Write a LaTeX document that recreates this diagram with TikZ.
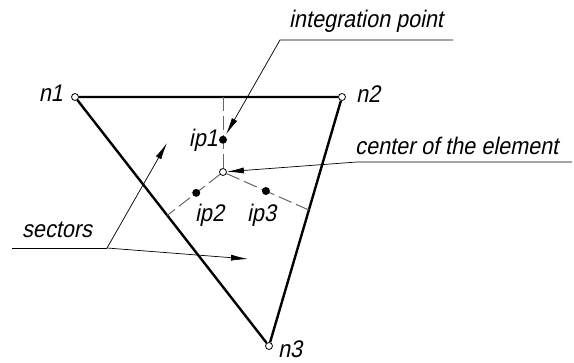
\documentclass[tikz,border=0pt]{standalone}
\usepackage{fontspec}
\setmainfont{Liberation Sans}[FakeSlant=0.2,FakeStretch=0.9]
\usepackage{tikz}
\usetikzlibrary{calc,arrows.meta}
\tikzset{
vertex/.style={
circle,
draw,
fill=white,
inner sep=0pt,
minimum size=7pt,
line width=0.8pt
},
ipoint/.style={
circle,
fill=black,
inner sep=0pt,
minimum size=8pt
},
side/.style={
line width=2.4pt
},
sector/.style={
draw=black!60,
line width=1pt,
dash pattern=on 14pt off 5pt
},
leader/.style={
line width=0.7pt
},
arrow/.style={
leader,
-{Latex[length=17pt,width=6pt]}
},
txt/.style={
font=\fontsize{24}{28}\selectfont,
inner sep=0pt
}
}

\begin{document}
\begin{tikzpicture}[x=1pt,y=-1pt]

\useasboundingbox (0,0) rectangle (574,363);

\node[vertex](n1) at (75,97){};

\node[vertex](n2) at (342,97){};

\node[vertex](n3) at (269,346){};

\node[vertex](c) at (223,172){};

\coordinate(m12) at ($(n1)!(c)!(n2)$);

\coordinate(m13) at ($(n1)!(c)!(n3)$);

\coordinate(m23) at ($(n2)!0.454!(n3)$);

\draw[side](n1)--(n2)--(n3)--(n1);

\draw[sector](c)--(m12);

\draw[sector](c)--(m13);

\draw[sector](c)--(m23);

\node[ipoint](ip1) at ($(c)!0.43!(m12)$){};

\node[ipoint](ip2) at ($(c)!0.48!(m13)$){};

\node[ipoint](ip3) at ($(c)!0.5!(m23)$){};

\node[txt,anchor=base east](tn1) at (63,102){n1};

\node[txt,anchor=base west](tn2) at (356,103){n2};

\node[txt,anchor=base west](tn3) at (278,358){n3};

\node[txt,anchor=base east](tip1) at (218,147){ip1};

\node[txt,anchor=base west](tip2) at (195,222){ip2};

\node[txt,anchor=base west](tip3) at (247,222){ip3};

\node[txt,anchor=base west](tint) at (289,28){integration point};

\coordinate(intk) at (280,40);

\coordinate(inte) at (453,40);

\draw[arrow,shorten >=2pt](inte)--(intk)--(ip1);

\node[txt,anchor=base west](tcen) at (355,155){center of the element};

\coordinate(cenk) at (357,162);

\coordinate(cene) at (572,162);

\draw[arrow](cene)--(cenk)--(c);

\node[txt,anchor=base west](tsec) at (22,238){sectors};

\coordinate(seck) at (107,248);

\coordinate(secs) at (12,248);

\coordinate(sec1) at (167,143);

\coordinate(sec2) at (248,259);

\draw[leader](secs)--(seck);

\draw[arrow](seck)--(sec1);

\draw[arrow](seck)--(sec2);

\end{tikzpicture}
\end{document}
